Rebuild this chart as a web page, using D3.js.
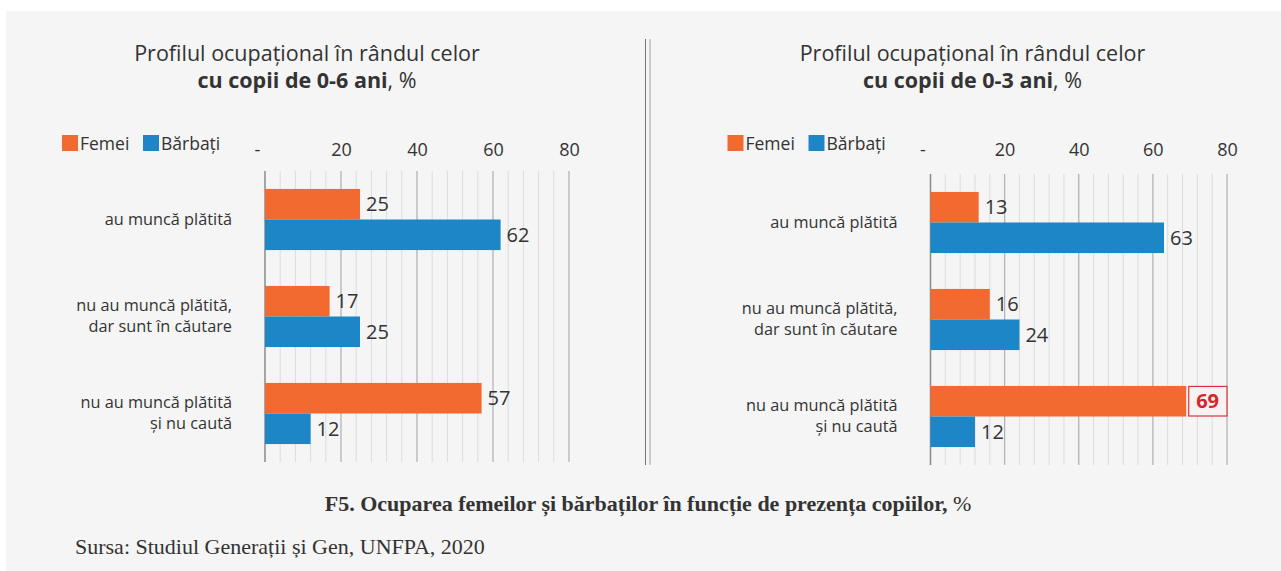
<!doctype html>
<html lang="ro">
<head>
<meta charset="utf-8">
<title>F5. Ocuparea femeilor și bărbaților</title>
<script src="https://cdn.jsdelivr.net/npm/d3@7"></script>
<style>
    body { margin: 0; background: #fff; }
    svg text { font-family: "Open Sans", sans-serif; fill: #333; }
    .caption text { font-family: "Liberation Serif", serif; }
</style>
</head>
<body>
<svg id="chart" width="1281" height="571"></svg>
<script>
// categories (split on two lines like in the report)
const categories = ["au muncă plătită", "nu au muncă plătită, dar sunt în căutare", "nu au muncă plătită și nu caută"];
const categoryLines = [["au muncă plătită"], ["nu au muncă plătită,", "dar sunt în căutare"], ["nu au muncă plătită", "și nu caută"]];
const series = ["Femei", "Bărbați"];

// copii 0-6 ani
const femei06 = [25, 17, 57];
const barbati06 = [62, 25, 12];
// copii 0-3 ani
const femei03 = [13, 16, 69];
const barbati03 = [63, 24, 12];

const tickValues = [0, 20, 40, 60, 80];
const tickLabels = ["-", "20", "40", "60", "80"];

const titleLine1 = "Profilul ocupațional în rândul celor";
const caption = "F5. Ocuparea femeilor și bărbaților în funcție de prezența copiilor,";
const source = "Sursa: Studiul Generații și Gen, UNFPA, 2020";

const colors = { "Femei": "#f36a31", "Bărbați": "#1d86c7" };

let svg = d3.select("#chart");

// panel background
svg.append("rect")
    .attr("x", 6).attr("y", 11)
    .attr("width", 1275).attr("height", 560)
    .attr("fill", "#f4f5f4");

// the two charts
let panels = [
    { sub: "cu copii de 0-6 ani", femei: femei06, barbati: barbati06, x0: 265, x1: 569, y0: 171, y1: 462, highlight: null },
    { sub: "cu copii de 0-3 ani", femei: femei03, barbati: barbati03, x0: 930.5, x1: 1227, y0: 174, y1: 465, highlight: [2, "Femei"] }
];

panels.forEach(function (p) {
    let g = svg.append("g");

    let x = d3.scaleLinear().domain([0, 80]).range([p.x0, p.x1]);
    let y = d3.scaleBand().domain(categories).range([p.y0, p.y1])
        .paddingInner(0.37).paddingOuter(0.185);
    let ySub = d3.scaleBand().domain(series).range([0, y.bandwidth()]);

    // title
    let cx = p.x0 + 42;
    g.append("text")
        .attr("x", cx).attr("y", 61)
        .attr("text-anchor", "middle")
        .style("font-size", "21.5px")
        .text(titleLine1);
    let t2 = g.append("text")
        .attr("x", cx).attr("y", 88)
        .attr("text-anchor", "middle")
        .style("font-size", "21.5px");
    t2.append("tspan").style("font-weight", "bold").text(p.sub);
    t2.append("tspan").text(", %");

    // legend
    let lx = p.x0 - 203;
    let leg = g.append("g").attr("transform", "translate(" + lx + ",135)");
    let offs = [0, 81];
    series.forEach(function (s, i) {
        leg.append("rect")
            .attr("x", offs[i]).attr("y", 0)
            .attr("width", 16).attr("height", 16)
            .attr("fill", colors[s]);
        leg.append("text")
            .attr("x", offs[i] + 18).attr("y", 15)
            .style("font-size", "17.5px")
            .text(s);
    });

    // grid
    let grid = d3.range(0, 81, 4);
    g.append("g").selectAll("line")
        .data(grid).enter()
        .append("line")
        .attr("x1", d => x(d)).attr("x2", d => x(d))
        .attr("y1", p.y0).attr("y2", p.y1)
        .attr("stroke", d => d === 0 ? "#8a8a8a" : (d % 20 === 0 ? "#b4b4b4" : "#dcdcdc"))
        .attr("stroke-width", d => d === 0 ? 1.5 : (d % 20 === 0 ? 1.3 : 1));

    // top axis labels
    let ax = g.append("g")
        .attr("transform", "translate(0,156)")
        .call(d3.axisTop(x).tickValues(tickValues)
            .tickFormat((d, i) => tickLabels[i])
            .tickSize(0).tickPadding(0));
    ax.select(".domain").remove();
    ax.selectAll("text")
        .style("font-size", "18px")
        .style("font-family", "'Open Sans', sans-serif")
        .attr("fill", "#333");
    ax.selectAll(".tick").filter(d => d === 0).select("text").attr("dx", -8);

    // category labels
    categories.forEach(function (c, i) {
        let lines = categoryLines[i];
        let mid = y(c) + y.bandwidth() / 2;
        let txt = g.append("text")
            .attr("text-anchor", "end")
            .style("font-size", "16.3px");
        lines.forEach(function (l, j) {
            txt.append("tspan")
                .attr("x", p.x0 - 33)
                .attr("y", mid + 5 + (j - (lines.length - 1) / 2) * 21)
                .text(l);
        });
    });

    // bars
    let rows = [];
    categories.forEach(function (c, i) {
        rows.push({ cat: c, idx: i, s: "Femei", v: p.femei[i] });
        rows.push({ cat: c, idx: i, s: "Bărbați", v: p.barbati[i] });
    });

    g.append("g").selectAll("rect")
        .data(rows).enter()
        .append("rect")
        .attr("x", x(0))
        .attr("y", d => y(d.cat) + ySub(d.s))
        .attr("width", d => x(d.v) - x(0))
        .attr("height", ySub.bandwidth())
        .attr("fill", d => colors[d.s]);

    // value labels
    rows.forEach(function (d) {
        let yy = y(d.cat) + ySub(d.s) + ySub.bandwidth() / 2;
        let hl = p.highlight && p.highlight[0] === d.idx && p.highlight[1] === d.s;
        if (hl) {
            g.append("rect")
                .attr("x", x(d.v) + 2.5)
                .attr("y", y(d.cat) + ySub(d.s) + 0.5)
                .attr("width", x(80) - x(d.v) - 2.5)
                .attr("height", ySub.bandwidth() - 1)
                .attr("fill", "#f7f2f2")
                .attr("stroke", "#d9343b")
                .attr("stroke-width", 1.2);
            g.append("text")
                .attr("x", (x(d.v) + x(80)) / 2 + 1)
                .attr("y", yy).attr("dy", "0.36em")
                .attr("text-anchor", "middle")
                .style("font-size", "20px")
                .style("font-weight", "bold")
                .style("fill", "#d6262d")
                .text(d.v);
        } else {
            g.append("text")
                .attr("x", x(d.v) + 6)
                .attr("y", yy).attr("dy", "0.36em")
                .style("font-size", "20px")
                .text(d.v);
        }
    });
});

// divider between the charts
svg.append("line")
    .attr("x1", 645.5).attr("x2", 645.5).attr("y1", 39).attr("y2", 465)
    .attr("stroke", "#777").attr("stroke-width", 1);
svg.append("line")
    .attr("x1", 650).attr("x2", 650).attr("y1", 39).attr("y2", 465)
    .attr("stroke", "#bbb").attr("stroke-width", 1.5);

// caption + source
let cap = svg.append("g").attr("class", "caption");
let ct = cap.append("text")
    .attr("x", 648).attr("y", 511)
    .attr("text-anchor", "middle")
    .style("font-size", "22px");
ct.append("tspan").style("font-weight", "bold").text(caption);
ct.append("tspan").text(" %");

cap.append("text")
    .attr("x", 75).attr("y", 554)
    .style("font-size", "22px")
    .text(source);
</script>
</body>
</html>
